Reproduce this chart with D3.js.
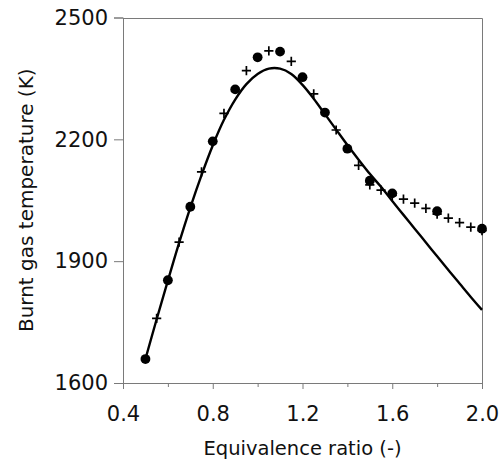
<!DOCTYPE html>
<html>
<head>
<meta charset="utf-8">
<script src="https://cdn.jsdelivr.net/npm/d3@7"></script>
<style>
  html, body { margin: 0; padding: 0; background: #fff; }
  svg { display: block; }
  text { font-family: "DejaVu Sans", Verdana, sans-serif; fill: #111; }
</style>
</head>
<body>
<svg id="chart" width="503" height="466"></svg>
<script>
// ---- Data ----
const xTicks = [0.4, 0.8, 1.2, 1.6, 2.0];
const xMinorTicks = [0.6, 1.0, 1.4, 1.8];
const yTicks = [1600, 1900, 2200, 2500];

// filled circles
const circleX = [0.5, 0.6, 0.7, 0.8, 0.9, 1.0, 1.1, 1.2, 1.3, 1.4, 1.5, 1.6, 1.8, 2.0];
const circleY = [1659, 1853, 2034, 2195, 2323, 2402, 2416, 2353, 2266, 2177, 2098, 2067, 2023, 1980];

// crosses
const crossX = [0.55, 0.65, 0.75, 0.85, 0.95, 1.05, 1.15, 1.25, 1.35, 1.45, 1.5, 1.55, 1.6, 1.65, 1.7, 1.75, 1.8, 1.85, 1.9, 1.95, 2.0];
const crossY = [1759, 1947, 2120, 2264, 2369, 2418, 2392, 2312, 2223, 2136, 2088, 2075, 2062, 2053, 2043, 2030, 2016, 2006, 1995, 1984, 1975];

// solid curve
const lineX = [0.5, 0.55, 0.6, 0.65, 0.7, 0.75, 0.8, 0.85, 0.9, 0.95, 1.0, 1.05, 1.1, 1.15, 1.2, 1.25, 1.3, 1.35, 1.4, 1.45, 1.5, 1.55, 1.6, 1.65, 1.7, 1.75, 1.8, 1.85, 1.9, 1.95, 2.0];
const lineY = [1659, 1757, 1852, 1945, 2032, 2112, 2185, 2248, 2298, 2336, 2361, 2374, 2374, 2361, 2334, 2300, 2262, 2224, 2186, 2150, 2115, 2083, 2048, 2014, 1980, 1946, 1912, 1878, 1845, 1812, 1780];

const xLabel = "Equivalence ratio (-)";
const yLabel = "Burnt gas temperature (K)";

// ---- Layout ----
const svg = d3.select("#chart");
const L = 123, R = 482, T = 17.5, B = 383;
const axisColor = "#7a7a7a";

const x = d3.scaleLinear().domain([0.4, 2.0]).range([L, R]);
const y = d3.scaleLinear().domain([1600, 2500]).range([B, T]);

// frame (top and right)
svg.append("path")
  .attr("d", `M${L + 0.5},${Math.round(T) + 0.5}H${R + 0.5}V${B + 0.5}`)
  .attr("fill", "none").attr("stroke", axisColor).attr("stroke-width", 1);

// bottom axis (major)
const gx = svg.append("g").attr("transform", `translate(0,${B})`)
  .call(d3.axisBottom(x).tickValues(xTicks).tickFormat(d3.format(".1f")).tickSize(6).tickPadding(17));
// minor ticks
const gxm = svg.append("g").attr("transform", `translate(0,${B})`)
  .call(d3.axisBottom(x).tickValues(xMinorTicks).tickFormat("").tickSize(4));
gxm.select(".domain").remove();

// left axis
const gy = svg.append("g").attr("transform", `translate(${L},0)`)
  .call(d3.axisLeft(y).tickValues(yTicks).tickFormat(d3.format("d")).tickSize(9).tickPadding(6));

[gx, gxm, gy].forEach(g => {
  g.selectAll(".domain").attr("stroke", axisColor);
  g.selectAll(".tick line").attr("stroke", axisColor);
  g.selectAll(".tick text").attr("font-size", 21).attr("font-family", "DejaVu Sans, sans-serif").attr("fill", "#111");
});

// curve
const lineData = lineX.map((v, i) => [v, lineY[i]]);
svg.append("path")
  .datum(lineData)
  .attr("fill", "none").attr("stroke", "#000").attr("stroke-width", 2.4)
  .attr("d", d3.line().x(d => x(d[0])).y(d => y(d[1])).curve(d3.curveCatmullRom.alpha(0.5)));

// crosses
const crossData = crossX.map((v, i) => [v, crossY[i]]);
svg.append("g").selectAll("path").data(crossData).join("path")
  .attr("d", d => {
    const cx = x(d[0]), cy = y(d[1]), h = 4.6;
    return `M${cx - h},${cy}H${cx + h}M${cx},${cy - h}V${cy + h}`;
  })
  .attr("stroke", "#000").attr("stroke-width", 1.7).attr("fill", "none");

// circles
const circleData = circleX.map((v, i) => [v, circleY[i]]);
svg.append("g").selectAll("circle").data(circleData).join("circle")
  .attr("cx", d => x(d[0])).attr("cy", d => y(d[1])).attr("r", 4.9)
  .attr("fill", "#000");

// axis labels
svg.append("text")
  .attr("x", (L + R) / 2).attr("y", 455)
  .attr("text-anchor", "middle").attr("font-size", 19.5)
  .text(xLabel);

svg.append("text")
  .attr("transform", `translate(33,${(T + B) / 2}) rotate(-90)`)
  .attr("text-anchor", "middle").attr("font-size", 20)
  .text(yLabel);
</script>
</body>
</html>
